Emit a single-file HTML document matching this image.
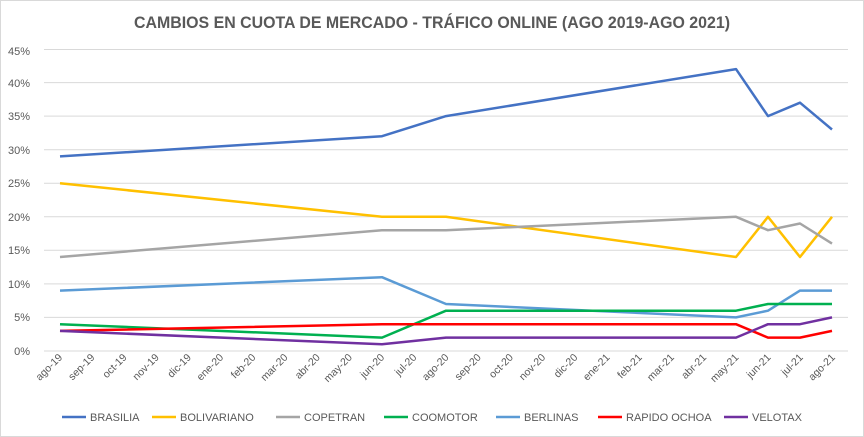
<!DOCTYPE html>
<html><head><meta charset="utf-8"><style>
html,body{margin:0;padding:0;background:#fff}
svg{display:block;font-family:"Liberation Sans",sans-serif}
</style></head><body>
<svg width="864" height="437" viewBox="0 0 864 437" xmlns="http://www.w3.org/2000/svg">
<rect x="0.5" y="0.5" width="863" height="436" fill="#fff" stroke="#d9d9d9"/>
<text x="432" y="28" text-anchor="middle" font-size="17" font-weight="bold" fill="#595959" textLength="596" lengthAdjust="spacingAndGlyphs">CAMBIOS EN CUOTA DE MERCADO - TRÁFICO ONLINE (AGO 2019-AGO 2021)</text>
<g stroke="#d9d9d9" stroke-width="1">
<line x1="44" x2="848" y1="49.5" y2="49.5"/><line x1="44" x2="848" y1="82.6" y2="82.6"/>
<line x1="44" x2="848" y1="116.1" y2="116.1"/><line x1="44" x2="848" y1="149.7" y2="149.7"/>
<line x1="44" x2="848" y1="183.2" y2="183.2"/><line x1="44" x2="848" y1="216.8" y2="216.8"/>
<line x1="44" x2="848" y1="250.3" y2="250.3"/><line x1="44" x2="848" y1="283.9" y2="283.9"/>
<line x1="44" x2="848" y1="317.4" y2="317.4"/><line x1="44" x2="848" y1="351" y2="351"/>
</g>
<g font-size="11" fill="#595959" text-anchor="end">
<text x="30" y="55">45%</text><text x="30" y="87">40%</text><text x="30" y="120">35%</text>
<text x="30" y="154">30%</text><text x="30" y="187">25%</text><text x="30" y="221">20%</text>
<text x="30" y="254">15%</text><text x="30" y="288">10%</text><text x="30" y="321">5%</text><text x="30" y="355">0%</text>
</g>
<g fill="none" stroke-width="2.5" stroke-linejoin="round">
<polyline stroke="#4472C4" points="60,156.4 382,136.2 446,116.1 736,69.1 768,116.1 800,102.7 832,129.5"/>
<polyline stroke="#FFC000" points="60,183.2 382,216.8 446,216.8 736,257 768,216.8 800,257 832,216.8"/>
<polyline stroke="#A5A5A5" points="60,257 382,230.2 446,230.2 736,216.8 768,230.2 800,223.5 832,243.6"/>
<polyline stroke="#5B9BD5" points="60,290.6 382,277.2 446,304 736,317.4 768,310.7 800,290.6 832,290.6"/>
<polyline stroke="#00B050" points="60,324.2 382,337.6 446,310.7 736,310.7 768,304 800,304 832,304"/>
<polyline stroke="#FF0000" points="60,330.9 382,324.2 446,324.2 736,324.2 768,337.6 800,337.6 832,330.9"/>
<polyline stroke="#7030A0" points="60,330.9 382,344.3 446,337.6 736,337.6 768,324.2 800,324.2 832,317.4"/>
</g>
<g font-size="11" fill="#595959">
<line x1="62" x2="86" y1="417" y2="417" stroke="#4472C4" stroke-width="2.5"/><text x="90" y="421">BRASILIA</text>
<line x1="152" x2="176" y1="417" y2="417" stroke="#FFC000" stroke-width="2.5"/><text x="180" y="421">BOLIVARIANO</text>
<line x1="276" x2="300" y1="417" y2="417" stroke="#A5A5A5" stroke-width="2.5"/><text x="304" y="421">COPETRAN</text>
<line x1="384" x2="408" y1="417" y2="417" stroke="#00B050" stroke-width="2.5"/><text x="412" y="421">COOMOTOR</text>
<line x1="496" x2="520" y1="417" y2="417" stroke="#5B9BD5" stroke-width="2.5"/><text x="524" y="421">BERLINAS</text>
<line x1="598" x2="622" y1="417" y2="417" stroke="#FF0000" stroke-width="2.5"/><text x="626" y="421">RAPIDO OCHOA</text>
<line x1="724" x2="748" y1="417" y2="417" stroke="#7030A0" stroke-width="2.5"/><text x="752" y="421">VELOTAX</text>
</g>
<g font-size="10.5" fill="#595959" text-anchor="end">
<text transform="translate(63,358) rotate(-45)">ago-19</text>
<text transform="translate(95.2,358) rotate(-45)">sep-19</text>
<text transform="translate(127.4,358) rotate(-45)">oct-19</text>
<text transform="translate(159.6,358) rotate(-45)">nov-19</text>
<text transform="translate(191.8,358) rotate(-45)">dic-19</text>
<text transform="translate(224,358) rotate(-45)">ene-20</text>
<text transform="translate(256.2,358) rotate(-45)">feb-20</text>
<text transform="translate(288.4,358) rotate(-45)">mar-20</text>
<text transform="translate(320.6,358) rotate(-45)">abr-20</text>
<text transform="translate(352.8,358) rotate(-45)">may-20</text>
<text transform="translate(385,358) rotate(-45)">jun-20</text>
<text transform="translate(417.2,358) rotate(-45)">jul-20</text>
<text transform="translate(449.4,358) rotate(-45)">ago-20</text>
<text transform="translate(481.6,358) rotate(-45)">sep-20</text>
<text transform="translate(513.8,358) rotate(-45)">oct-20</text>
<text transform="translate(546,358) rotate(-45)">nov-20</text>
<text transform="translate(578.2,358) rotate(-45)">dic-20</text>
<text transform="translate(610.4,358) rotate(-45)">ene-21</text>
<text transform="translate(642.6,358) rotate(-45)">feb-21</text>
<text transform="translate(674.8,358) rotate(-45)">mar-21</text>
<text transform="translate(707,358) rotate(-45)">abr-21</text>
<text transform="translate(739.2,358) rotate(-45)">may-21</text>
<text transform="translate(771.4,358) rotate(-45)">jun-21</text>
<text transform="translate(803.6,358) rotate(-45)">jul-21</text>
<text transform="translate(835.8,358) rotate(-45)">ago-21</text>
</g>
</svg>
</body></html>
